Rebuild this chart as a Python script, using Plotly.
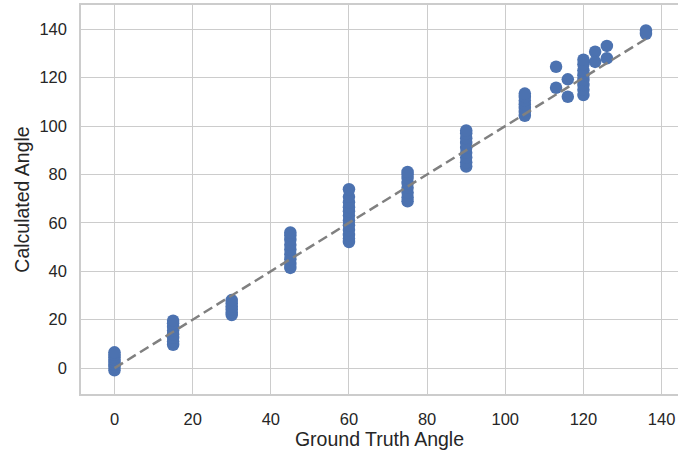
import plotly.graph_objects as go

# Ground truth angles and calculated angles
ground_truth = (
    [0] * 8 + [15] * 8 + [30] * 6 + [45] * 9 + [60] * 12 + [75] * 8 + [90] * 9 + [105] * 7
    + [113, 113, 116, 116] + [120] * 8 + [123, 123, 126, 126, 136, 136]
)
calculated = (
    [-0.9, 0.5, 1.5, 2.5, 3.5, 4.5, 5.5, 6.5]
    + [9.6, 11.0, 12.5, 14.0, 15.5, 17.0, 18.5, 19.6]
    + [21.9, 23.0, 24.3, 25.5, 26.8, 28.1]
    + [41.4, 43.0, 45.0, 47.0, 49.0, 51.0, 53.0, 54.8, 56.0]
    + [52.1, 53.5, 55.0, 57.0, 59.0, 61.0, 63.0, 64.8, 66.5, 68.5, 70.8, 73.9]
    + [68.9, 70.5, 72.5, 74.5, 76.5, 78.5, 80.0, 81.0]
    + [83.3, 85.0, 87.0, 89.0, 91.0, 93.0, 95.0, 97.0, 98.2]
    + [104.2, 105.8, 107.5, 109.0, 110.5, 112.0, 113.4]
    + [124.5, 115.8, 119.3, 112.1]
    + [112.8, 115.0, 117.0, 119.0, 121.0, 123.0, 125.5, 127.4]
    + [130.7, 126.5, 133.1, 128.0, 139.5, 138.1]
)
ideal_x = [0, 136]
ideal_y = [0, 136]

x_ticks = [0, 20, 40, 60, 80, 100, 120, 140]
y_ticks = [0, 20, 40, 60, 80, 100, 120, 140]

font_family = "Liberation Sans, Arial, sans-serif"
text_color = "#262626"
grid_color = "#cccccc"

fig = go.Figure()
fig.add_trace(go.Scatter(
    x=ground_truth, y=calculated, mode="markers",
    marker=dict(color="#4c72b0", size=12.5, line=dict(width=0)),
    showlegend=False, hoverinfo="x+y",
))
fig.add_trace(go.Scatter(
    x=ideal_x, y=ideal_y, mode="lines",
    line=dict(color="#808080", width=2.5, dash="10px,5px"),
    showlegend=False,
))

fig.update_layout(
    width=678, height=451,
    margin=dict(l=81, r=0, t=5, b=57),
    paper_bgcolor="white", plot_bgcolor="white",
    font=dict(family=font_family, color=text_color, size=16),
    xaxis=dict(
        range=[-8.57, 144.2], tickvals=x_ticks, showgrid=True, gridcolor=grid_color, gridwidth=1.3,
        zeroline=False, showline=True, linecolor=grid_color, linewidth=1.5, mirror=True,
        ticks="outside", ticklen=9, tickcolor="rgba(0,0,0,0)",
        tickfont=dict(size=16.5),
        title=dict(text="Ground Truth Angle", font=dict(size=19.5), standoff=6),
    ),
    yaxis=dict(
        range=[-10.7, 150.0], tickvals=y_ticks, showgrid=True, gridcolor=grid_color, gridwidth=1.3,
        zeroline=False, showline=True, linecolor=grid_color, linewidth=1.5, mirror=False,
        ticks="outside", ticklen=9, tickcolor="rgba(0,0,0,0)",
        tickfont=dict(size=16.5),
        title=dict(text="Calculated Angle", font=dict(size=19.5), standoff=5),
    ),
)

fig.write_html("out.html")
